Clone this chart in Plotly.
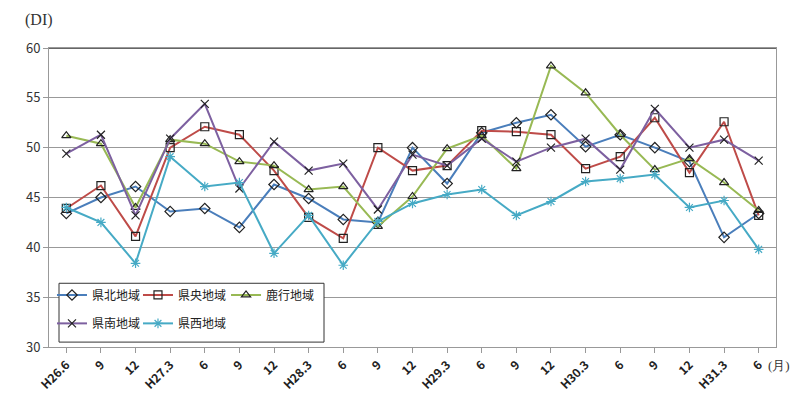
import plotly.graph_objects as go

categories = ["H26.6", "9", "12", "H27.3", "6", "9", "12", "H28.3", "6", "9", "12",
              "H29.3", "6", "9", "12", "H30.3", "6", "9", "12", "H31.3", "6"]

kenpoku = [43.4, 45.0, 46.1, 43.6, 43.9, 42.0, 46.3, 44.9, 42.8, 42.5, 50.0,
           46.4, 51.5, 52.5, 53.3, 50.1, 51.3, 50.0, 48.6, 41.0, 43.4]
kenou = [43.9, 46.2, 41.1, 50.0, 52.1, 51.3, 47.7, 43.0, 40.9, 50.0, 47.7,
         48.2, 51.7, 51.6, 51.3, 47.9, 49.1, 53.0, 47.5, 52.6, 43.2]
rokkou = [51.2, 50.4, 44.0, 50.8, 50.4, 48.6, 48.2, 45.8, 46.1, 42.1, 45.1,
          49.9, 51.2, 47.9, 58.2, 55.5, 51.3, 47.8, 48.9, 46.5, 43.7]
kennan = [49.4, 51.3, 43.2, 50.9, 54.4, 45.9, 50.6, 47.7, 48.4, 43.8, 49.3,
          48.2, 50.9, 48.6, 50.0, 50.9, 47.8, 53.9, 50.0, 50.8, 48.7]
kensei = [44.0, 42.5, 38.4, 49.1, 46.1, 46.5, 39.4, 43.2, 38.2, 42.6, 44.4,
          45.3, 45.8, 43.2, 44.6, 46.6, 46.9, 47.3, 44.0, 44.7, 39.8]

series = [
    ("県北地域", kenpoku, "#4a7ebb", "diamond-open"),
    ("県央地域", kenou, "#be4b48", "square-open"),
    ("鹿行地域", rokkou, "#98b954", "triangle-up-open"),
    ("県南地域", kennan, "#7d60a0", "x-thin-open"),
    ("県西地域", kensei, "#46aac5", "asterisk-open"),
]
legend_ids = ["legend", "legend2", "legend3", "legend4", "legend5"]
# legend anchor positions (paper coords): three columns, two rows
legend_x = [0.0041, 0.1224, 0.2435, 0.0041, 0.1224]
legend_y = [0.174, 0.174, 0.174, 0.079, 0.079]

x = list(range(len(categories)))
fig = go.Figure()
for (name, vals, color, sym), lg in zip(series, legend_ids):
    mcolor = color if sym == "asterisk-open" else "#222222"
    fig.add_trace(go.Scatter(
        x=x, y=vals, name=name, mode="lines+markers", legend=lg,
        line=dict(color=color, width=2),
        marker=dict(symbol=sym, size=8, color=mcolor,
                    line=dict(width=1.2, color=mcolor)),
    ))

font = "Noto Sans CJK JP"
legends = {}
for lg, lx, ly in zip(legend_ids, legend_x, legend_y):
    legends[lg] = dict(x=lx, y=ly, xanchor="left", yanchor="middle",
                       bgcolor="rgba(0,0,0,0)", borderwidth=0, itemwidth=30,
                       font=dict(family=font, size=12, color="#222222"))

fig.update_layout(
    width=800, height=396,
    margin=dict(l=41, r=32, t=40, b=51),
    paper_bgcolor="white", plot_bgcolor="white",
    font=dict(family=font, size=12, color="#333333"),
    showlegend=True,
    **legends,
    xaxis=dict(
        tickmode="array", tickvals=x, ticktext=["<b>%s</b>" % c for c in categories],
        range=[-0.5, len(categories) - 0.5], tickangle=-45,
        tickfont=dict(family=font, size=12, color="#222222"),
        showgrid=False, showline=True, linecolor="#999999", linewidth=1,
        mirror=True, ticks="outside", ticklen=5, tickcolor="#999999",
        tickson="boundaries", zeroline=False,
    ),
    yaxis=dict(
        range=[30, 60], dtick=5, showgrid=True, gridcolor="#999999", gridwidth=1,
        showline=True, linecolor="#999999", linewidth=1, mirror=True,
        ticks="outside", ticklen=5, tickcolor="#999999", zeroline=False,
        tickfont=dict(family=font, size=13, color="#333333"),
    ),
    annotations=[
        dict(text="(DI)", xref="paper", yref="paper", x=-0.0358, y=1.092,
             xanchor="left", yanchor="middle", showarrow=False,
             font=dict(family="Liberation Serif", size=16, color="#333333")),
        dict(text="(月)", xref="paper", yref="paper", x=1.022, y=-0.062,
             xanchor="right", yanchor="middle", showarrow=False,
             font=dict(family="Liberation Serif", size=13, color="#333333")),
    ],
)
fig.add_shape(type="line", xref="paper", yref="y", x0=0, x1=1, y0=60, y1=60,
              line=dict(color="#333333", width=1.5))
fig.add_shape(type="rect", xref="paper", yref="paper",
              x0=(51 - 41) / 727, x1=(316 - 41) / 727,
              y0=(345 - 340) / 305, y1=(345 - 280) / 305,
              line=dict(color="#333333", width=1), fillcolor="white", layer="above")

fig.write_html("out.html")
